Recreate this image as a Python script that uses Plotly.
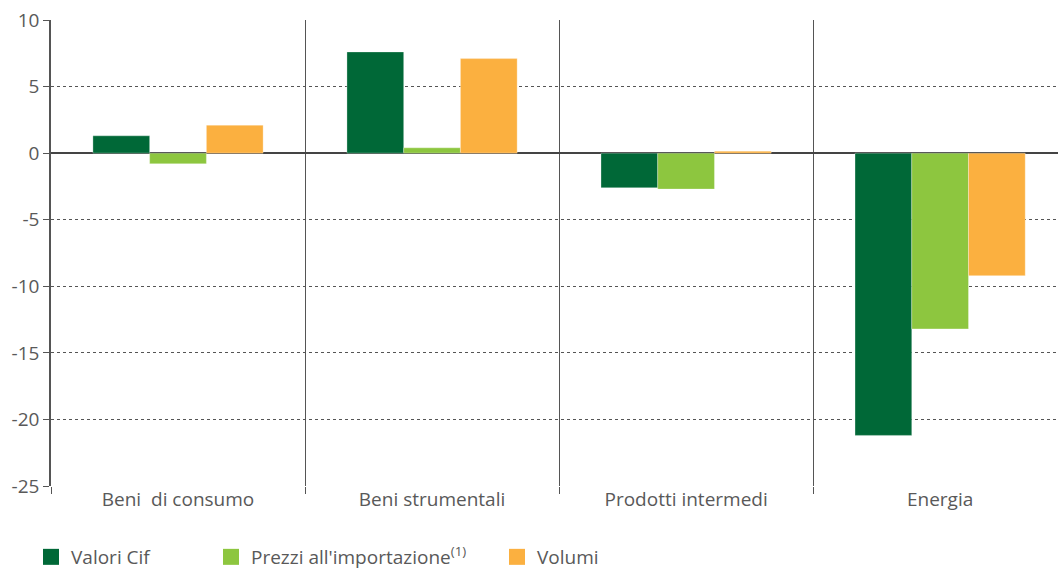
import plotly.graph_objects as go

categories = ["Beni  di consumo", "Beni strumentali", "Prodotti intermedi", "Energia"]
valori_cif = [1.3, 7.6, -2.6, -21.2]
prezzi = [-0.8, 0.4, -2.7, -13.2]
volumi = [2.1, 7.1, 0.15, -9.2]
y_ticks = [10, 5, 0, -5, -10, -15, -20, -25]

series = [
    ("Valori Cif", valori_cif, "#006837", "legend", 31),
    ("Prezzi all'importazione<sup>(1)</sup>", prezzi, "#8DC63F", "legend2", 211),
    ("Volumi", volumi, "#FBB040", "legend3", 497),
]

fig = go.Figure()
for name, vals, color, leg, lx in series:
    fig.add_trace(go.Bar(
        x=categories, y=vals, name=name, showlegend=False,
        marker=dict(color=color, line=dict(color="rgba(255,255,255,0.6)", width=0.5)),
    ))
for name, vals, color, leg, lx in series:
    fig.add_trace(go.Scatter(
        x=[None], y=[None], mode="markers", name=name, legend=leg,
        marker=dict(symbol="square", size=17, color=color),
    ))

font_color = "#595959"
legends = {}
for name, vals, color, leg, lx in series:
    legends[leg] = dict(orientation="h", xref="container", yref="container",
                        x=lx / 1058, xanchor="left", y=0, yanchor="bottom",
                        font=dict(size=19, color=font_color, family="Open Sans"),
                        bgcolor="rgba(0,0,0,0)", borderwidth=0, itemwidth=30)

fig.update_layout(
    width=1058, height=576,
    margin=dict(l=51, r=0, t=20, b=90, autoexpand=False),
    paper_bgcolor="white", plot_bgcolor="white",
    font=dict(family="Open Sans", size=19, color=font_color),
    barmode="group", bargap=0.33, bargroupgap=0,
    showlegend=True,
    xaxis=dict(
        type="category", tickson="boundaries", showgrid=True,
        range=[-0.5, 3.464],
        gridcolor="#555555", gridwidth=1,
        ticks="outside", ticklen=7, tickcolor="#555555",
        showline=False, tickfont=dict(size=19, color=font_color),
    ),
    yaxis=dict(
        range=[-25, 10], tickvals=y_ticks, ticktext=[str(v) for v in y_ticks],
        showgrid=True, gridcolor="#555555", griddash="dot", gridwidth=1,
        zeroline=True, zerolinecolor="#444444", zerolinewidth=2,
        showline=True, linecolor="#555555", linewidth=1.5,
        ticks="outside", ticklen=6, tickcolor="#555555",
        tickfont=dict(size=19, color=font_color),
    ),
    **legends,
)

fig.write_html("out.html")
